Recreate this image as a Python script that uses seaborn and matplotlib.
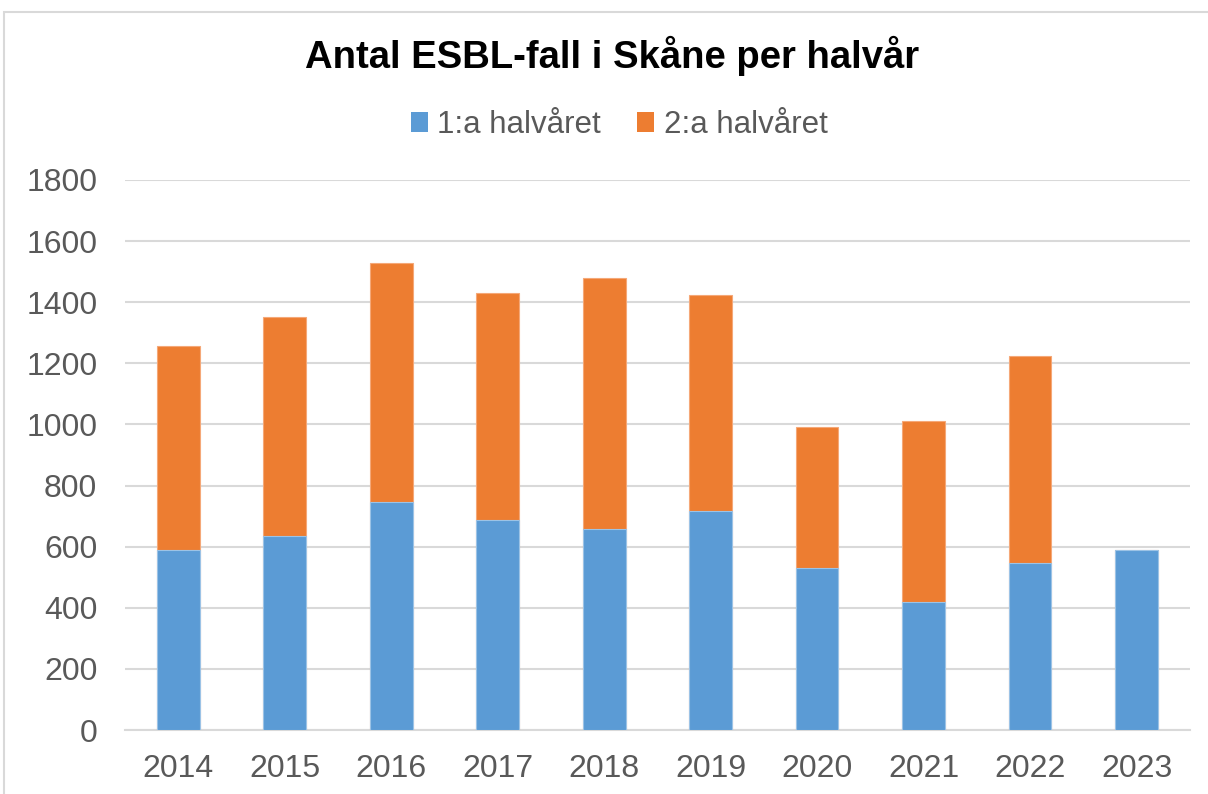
import matplotlib
matplotlib.use("Agg")
import matplotlib.pyplot as plt
import seaborn as sns
import numpy as np
import pandas as pd
from matplotlib.patches import Patch, Rectangle

years = ["2014", "2015", "2016", "2017", "2018", "2019", "2020", "2021", "2022", "2023"]
first_half = [589, 635, 746, 686, 658, 717, 530, 420, 545, 590]
second_half = [669, 716, 781, 744, 820, 706, 463, 592, 680, 0]
series_names = ["1:a halvåret", "2:a halvåret"]
title = "Antal ESBL-fall i Skåne per halvår"
yticks = [0, 200, 400, 600, 800, 1000, 1200, 1400, 1600, 1800]

blue = "#5B9BD5"
orange = "#ED7D31"
txt_gray = "#595959"

sns.set_theme(style="white")
plt.rcParams['font.family'] = ['Liberation Sans', 'DejaVu Sans']

df = pd.DataFrame({"year": years, "h1": first_half, "h2": second_half})
df["total"] = df["h1"] + df["h2"]

fig = plt.figure(figsize=(12.08, 7.94), dpi=100)
ax = fig.add_axes([0.1035, 0.0806, 0.8815, 0.6927])

sns.barplot(data=df, x="year", y="total", color=orange, saturation=1, width=0.4,
            ax=ax, edgecolor="#F5A878", linewidth=0.8, zorder=3)
sns.barplot(data=df, x="year", y="h1", color=blue, saturation=1, width=0.4,
            ax=ax, edgecolor="#9CC3E6", linewidth=0.8, zorder=4)

ax.set_ylim(0, 1800)
ax.set_xlim(-0.5, len(years) - 0.5)
ax.set_yticks(yticks)
ax.set_yticklabels([str(v) for v in yticks])
ax.yaxis.grid(True, color="#D9D9D9", linewidth=1.5, zorder=0)
ax.set_axisbelow(True)
for s in ["top", "right", "left"]:
    ax.spines[s].set_visible(False)
ax.spines["bottom"].set_color("#D9D9D9")
ax.spines["bottom"].set_linewidth(1.5)
ax.tick_params(axis="both", length=0, labelsize=23, colors=txt_gray)
ax.tick_params(axis="x", pad=17)
ax.tick_params(axis="y", pad=20)
ax.set_xlabel("")
ax.set_ylabel("")

cx = 612 / 1208
fig.text(cx, 0.93, title, ha="center", va="center", fontsize=27.5,
         fontweight="bold", color="black")

handles = [Patch(facecolor=blue, edgecolor="none"), Patch(facecolor=orange, edgecolor="none")]
leg = fig.legend(handles, series_names, loc="center", bbox_to_anchor=(cx + 0.006, 0.843),
                 ncol=2, frameon=False, fontsize=22.5, handlelength=0.55, handleheight=0.6,
                 handletextpad=0.3, columnspacing=1.15)
for t in leg.get_texts():
    t.set_color(txt_gray)

fig.patches.append(Rectangle((4 / 1208, -0.01), 1.1, 1 - 12 / 794 + 0.01,
                             transform=fig.transFigure, fill=False,
                             edgecolor="#D9D9D9", linewidth=1.5))

fig.savefig("out.png", dpi=100)
